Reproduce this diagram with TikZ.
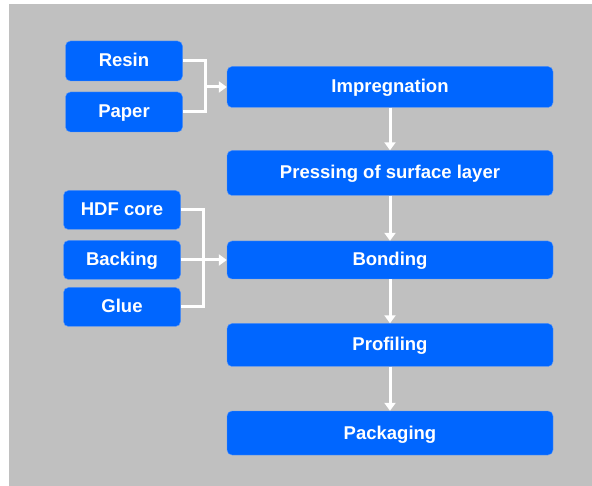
\documentclass[tikz,border=0pt]{standalone}
\usepackage{fontspec}
\setmainfont{Liberation Sans}
\usepackage{tikz}
\usetikzlibrary{arrows.meta, positioning}
\definecolor{flowblue}{RGB}{0,102,255}
\definecolor{flowedge}{RGB}{90,150,250}
\definecolor{flowgray}{RGB}{192,192,192}

\begin{document}
\begin{tikzpicture}[
    x=1pt, y=-1pt,
    stage/.style={rectangle, rounded corners=5pt, draw=flowedge, fill=flowblue, text=white, font=\fontsize{18.5}{22}\selectfont\bfseries, text height=12pt, text depth=0pt, minimum width=326pt, minimum height=41pt, inner sep=0pt},
    input/.style={stage, minimum width=117pt, minimum height=39pt},
    link/.style={draw=white, line width=3pt},
    arrow/.style={link, -{Triangle[width=11pt,length=8pt]}}
]
    % Background
    \useasboundingbox (0,0) rectangle (592,486);
    \fill[flowgray] (9,4) rectangle (592,486);

    % Inputs
    \node[input, minimum height=40pt] (resin) at (124, 61) {Resin};
    \node[input, minimum height=40pt] (paper) at (124, 112) {Paper};
    \node[input] (hdf) at (122, 210) {HDF core};
    \node[input] (backing) at (122, 260) {Backing};
    \node[input] (glue) at (122, 307) {Glue};

    % Process steps
    \node[stage] (impreg) at (390, 87) {Impregnation};
    \node[stage, minimum height=45pt] (press) at (390, 173) {Pressing of surface layer};
    \node[stage, minimum height=38pt] (bonding) at (390, 260) {Bonding};
    \node[stage, minimum height=43pt] (profiling) at (390, 345) {Profiling};
    \node[stage, minimum height=44pt] (packaging) at (390, 433) {Packaging};

    % Merge points
    \coordinate (mergeA) at (205, 87);
    \coordinate (mergeB) at (203, 260);

    % Input connections
    \draw[link] (resin.east) -| (mergeA) |- (paper.east);
    \draw[arrow] (mergeA) -- (impreg.west);
    \draw[link] (hdf.east) -| (mergeB) |- (glue.east);
    \draw[arrow] (backing.east) -- (bonding.west);

    % Main flow
    \draw[arrow] (impreg) -- (press);
    \draw[arrow] (press) -- (bonding);
    \draw[arrow] (bonding) -- (profiling);
    \draw[arrow] (profiling) -- (packaging);
\end{tikzpicture}
\end{document}
